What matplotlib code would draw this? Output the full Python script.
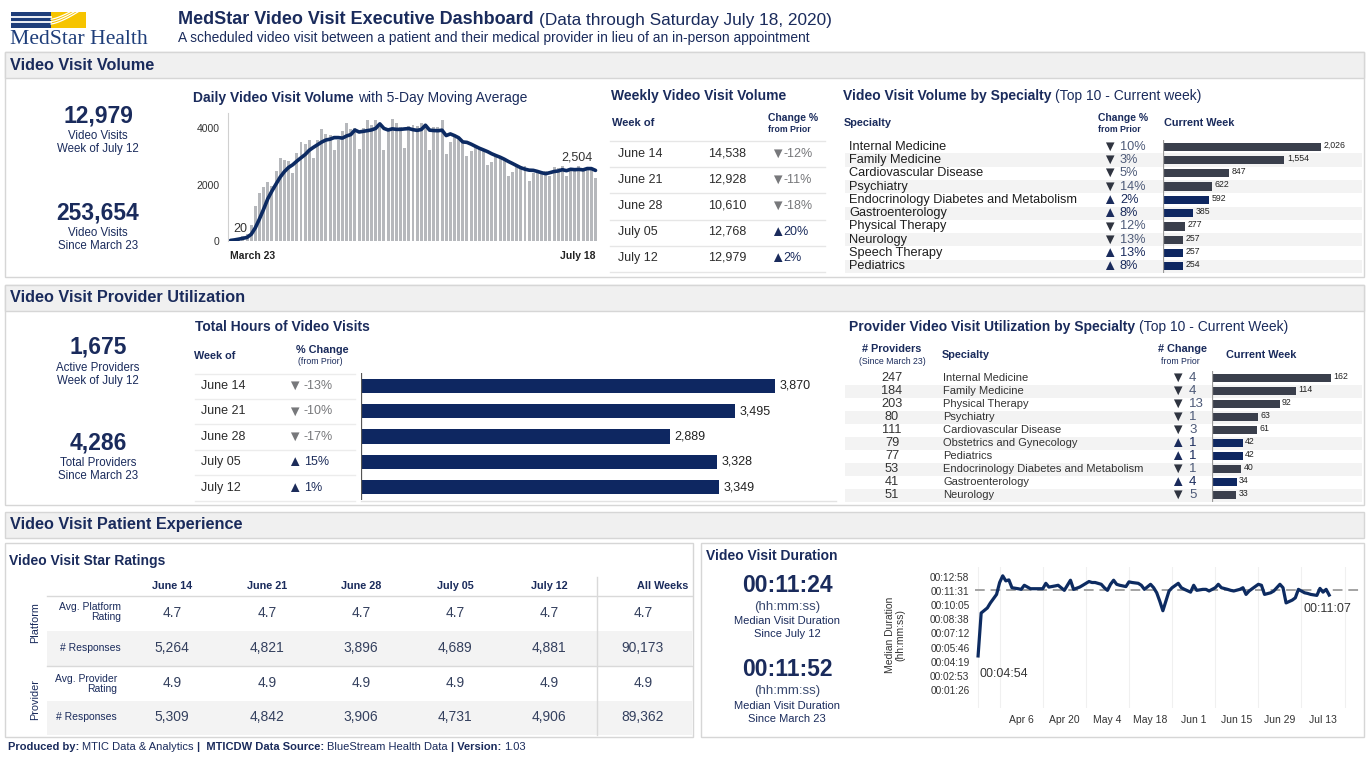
import numpy as np
import pandas as pd
import matplotlib.pyplot as plt
from matplotlib.patches import Rectangle

plt.rcParams['font.family'] = ['Liberation Sans', 'DejaVu Sans']

# ---------------- data ----------------
kpi_week_visits = 12979
kpi_total_visits = 253654
kpi_active_providers = 1675
kpi_total_providers = 4286
kpi_dur_week = "00:11:24"
kpi_dur_all = "00:11:52"

# daily video visits (weekdays, March 23 -> July 18)
daily_visits = [20, 60, 120, 180, 260, 570, 1230, 1700, 1900, 2100,
                1940, 2480, 2930, 2860, 2830, 2420, 3130, 3520, 3430, 3600,
                2930, 3600, 3990, 3790, 3750, 3210, 3600, 3900, 4170, 3990,
                4020, 3250, 4020, 4290, 4120, 4290, 4050, 3210, 4020, 4320,
                4200, 4050, 3290, 4080, 4120, 4080, 4200, 4050, 3210, 4050,
                4050, 4290, 3100, 3500, 3750, 3670, 3550, 3020, 3190, 3380,
                3310, 3250, 2710, 2810, 3070, 3020, 2900, 2300, 2450, 2690,
                2650, 2650, 2120, 2420, 2500, 2420, 2480, 2300, 2620, 2600,
                2650, 2300, 2550, 2550, 2650, 2560, 2540, 2540, 2230]
daily_first_label = "March 23"
daily_last_label = "July 18"

weekly_weeks = ["June 14", "June 21", "June 28", "July 05", "July 12"]
weekly_visits = [14538, 12928, 10610, 12768, 12979]
weekly_change = [-12, -11, -18, 20, 2]

spec_names = ["Internal Medicine", "Family Medicine", "Cardiovascular Disease", "Psychiatry",
              "Endocrinology Diabetes and Metabolism", "Gastroenterology", "Physical Therapy",
              "Neurology", "Speech Therapy", "Pediatrics"]
spec_change = [-10, -3, -5, -14, 2, 8, -12, -13, 13, 8]
spec_visits = [2026, 1554, 847, 622, 592, 385, 277, 257, 257, 254]

hours_total = [3870, 3495, 2889, 3328, 3349]
hours_change = [-13, -10, -17, 15, 1]

prov_names = ["Internal Medicine", "Family Medicine", "Physical Therapy", "Psychiatry",
              "Cardiovascular Disease", "Obstetrics and Gynecology", "Pediatrics",
              "Endocrinology Diabetes and Metabolism", "Gastroenterology", "Neurology"]
prov_total = [247, 184, 203, 80, 111, 79, 77, 53, 41, 51]
prov_change = [-4, -4, -13, -1, -3, 1, 1, -1, 4, -5]
prov_current = [162, 114, 92, 63, 61, 42, 42, 40, 34, 33]

star_cols = ["June 14", "June 21", "June 28", "July 05", "July 12", "All Weeks"]
platform_rating = [4.7, 4.7, 4.7, 4.7, 4.7, 4.7]
platform_responses = [5264, 4821, 3896, 4689, 4881, 90173]
provider_rating = [4.9, 4.9, 4.9, 4.9, 4.9, 4.9]
provider_responses = [5309, 4842, 3906, 4731, 4906, 89362]

# median visit duration, days after March 23 and seconds
dur_start = pd.Timestamp("2020-03-23")
dur_days = [0, 1, 3, 4, 6, 7, 8, 9, 10, 11, 13, 14, 15, 17, 18, 19, 21, 22, 23, 25,
            26, 28, 30, 31, 33, 34, 36, 37, 38, 40, 41, 42, 43, 44, 45, 46, 48, 49, 50, 52,
            53, 54, 56, 57, 58, 59, 60, 62, 63, 65, 66, 67, 69, 70, 71, 73, 74, 75, 77, 78,
            79, 81, 82, 83, 85, 86, 87, 88, 89, 91, 92, 93, 95, 96, 98, 99, 100, 102, 103, 104,
            106, 107, 108, 110, 111, 112, 113, 114]
dur_seconds = [294, 557, 588, 619, 671, 744, 785, 754, 760, 712,
               706, 702, 727, 706, 706, 706, 706, 739, 716, 723,
               727, 696, 758, 702, 716, 727, 750, 744, 744, 733,
               712, 696, 733, 758, 733, 727, 719, 748, 744, 739,
               727, 702, 733, 712, 681, 629, 571, 692, 712, 739,
               712, 702, 685, 727, 696, 702, 702, 692, 712, 733,
               712, 702, 696, 692, 702, 712, 671, 692, 706, 733,
               727, 671, 681, 692, 733, 712, 619, 636, 650, 702,
               681, 677, 671, 665, 708, 685, 702, 667]
dur_ref = 698

# ---------------- style ----------------
W, H = 1369, 762
NAVY = '#1a2b5c'
NAVY_BAR = '#0e2761'
DARK_BAR = '#3a3f4c'
GRAY_TXT = '#77787b'
TXT = '#2b2b2b'
BORDER = '#d6d6d6'
BAND = '#f0f0f0'
STRIPE = '#f3f3f3'
ARROW = 10.5

fig = plt.figure(figsize=(W / 100, H / 100), dpi=100)
bg = fig.add_axes([0, 0, 1, 1])
bg.set_xlim(0, W)
bg.set_ylim(H, 0)
bg.axis('off')
rend = fig.canvas.get_renderer()


def px_axes(x0, y0, x1, y1):
    a = fig.add_axes([x0 / W, 1 - y1 / H, (x1 - x0) / W, (y1 - y0) / H])
    a.set_facecolor('none')
    return a


def txt(x, y, s, size, color=TXT, weight='normal', ha='left', va='center', **kw):
    return bg.text(x, y, s, fontsize=size, color=color, fontweight=weight, ha=ha, va=va, **kw)


def rich(x, y, parts, size, color=NAVY):
    # parts: (text, weight, size or None)
    for s, w, sz in parts:
        sz = sz or size
        t = txt(x, y, s, sz, color=color, weight=w)
        x += t.get_window_extent(rend).width + 0.39 * sz


def rect(x0, y0, x1, y1, fc='none', ec='none', lw=1, z=0):
    bg.add_patch(Rectangle((x0, y0), x1 - x0, y1 - y0, fc=fc, ec=ec, lw=lw, zorder=z))


def hline(y, x0, x1, color='#e6e6e6', lw=1):
    bg.plot([x0, x1], [y, y], color=color, lw=lw)


def arrow(v):
    return '\u25b2' if v > 0 else '\u25bc'


# ---------------- header ----------------
rect(11, 12, 51, 28, fc='#1f3e7a')
for yy in (16.8, 22.3):
    bg.plot([11, 51], [yy, yy], color='white', lw=1.3)
rect(51, 12, 86, 28, fc='#f6c400')
xs = np.linspace(51, 86, 30)
for off in (0, 4, 8):
    bg.plot(xs, 24 - off * 0.6 - (xs - 51) ** 1.4 * 0.12, color='white', lw=0.9)
txt(10, 40, "MedStar Health", 15.6, color='#1f3e7a', family='Liberation Serif')

rich(178, 20, [("MedStar Video Visit Executive Dashboard", 'bold', 13),
               ("(Data through Saturday July 18, 2020)", 'normal', 12.4)], 13)
txt(178, 38, "A scheduled video visit between a patient and their medical provider in lieu of an in-person appointment",
    9.9, color=NAVY)

# section frames
for (y0, y1, title) in [(52, 277, "Video Visit Volume"), (285, 505, "Video Visit Provider Utilization")]:
    rect(5, y0, 1364, y1, ec=BORDER)
    rect(5, y0, 1364, y0 + 26, fc=BAND, ec=BORDER)
    txt(10, y0 + 13, title, 11.7, color=NAVY, weight='bold')
rect(5, 512, 1364, 538, fc=BAND, ec=BORDER)
txt(10, 525, "Video Visit Patient Experience", 11.7, color=NAVY, weight='bold')
rect(5, 543, 693, 737, ec=BORDER)
rect(701, 543, 1364, 737, ec=BORDER)

# ---------------- volume KPIs ----------------
txt(98, 116, f"{kpi_week_visits:,}", 16.5, color=NAVY, weight='bold', ha='center')
txt(98, 136, "Video Visits", 8.3, color=NAVY, ha='center')
txt(98, 149, "Week of July 12", 8.3, color=NAVY, ha='center')
txt(98, 213, f"{kpi_total_visits:,}", 16.5, color=NAVY, weight='bold', ha='center')
txt(98, 233, "Video Visits", 8.3, color=NAVY, ha='center')
txt(98, 246, "Since March 23", 8.3, color=NAVY, ha='center')

# ---------------- daily volume chart ----------------
rich(193, 98, [("Daily Video Visit Volume", 'bold', None), ("with 5-Day Moving Average", 'normal', None)], 10)
ax = px_axes(228, 113, 598, 241)
x = np.arange(len(daily_visits))
ax.bar(x, daily_visits, width=0.72, color='#b6b8bc')
ma = pd.Series(daily_visits).rolling(5, min_periods=1).mean()
ax.plot(x, ma, color='#0c2a62', lw=2.6, solid_capstyle='round')
ax.set_xlim(-0.6, len(x) - 0.4)
ax.set_ylim(0, 4540)
ax.set_yticks([0, 2000, 4000])
ax.tick_params(axis='y', length=0, labelsize=7.5, labelcolor='#333333', pad=6)
ax.set_xticks([0, len(x) - 1])
ax.set_xticklabels([daily_first_label, daily_last_label], fontsize=7.5, color='#222222', fontweight='bold')
ax.get_xticklabels()[0].set_ha('left')
ax.get_xticklabels()[1].set_ha('right')
ax.tick_params(axis='x', length=0, pad=7)
for s in ('top', 'right', 'bottom'):
    ax.spines[s].set_visible(False)
ax.spines['left'].set_color('#d0d0d0')
ax.annotate(f"{ma.iloc[0]:,.0f}", (x[0], ma.iloc[0]), xytext=(2, 6), textcoords='offset points',
            fontsize=9, color='#333333')
ax.annotate(f"{ma.iloc[-1]:,.0f}", (x[-1], ma.iloc[-1]), xytext=(-2, 7), textcoords='offset points',
            fontsize=9, color='#333333', ha='right')

# ---------------- weekly table ----------------
txt(611, 96, "Weekly Video Visit Volume", 10, color=NAVY, weight='bold')
txt(612, 123, "Week of", 8, color=NAVY, weight='bold')
txt(768, 118, "Change %", 7.5, color=NAVY, weight='bold')
txt(768, 129, "from Prior", 6.3, color=NAVY, weight='bold')
for k in range(6):
    hline(141 + 26.2 * k, 610, 825)
for i, (wk, v, c) in enumerate(zip(weekly_weeks, weekly_visits, weekly_change)):
    y = 154 + 26 * i
    col = NAVY if c > 0 else GRAY_TXT
    txt(618, y, wk, 9, color=TXT)
    txt(746, y, f"{v:,}", 9, color=TXT, ha='right')
    txt(770, y, arrow(c), ARROW, color=col)
    txt(783, y, f"{c}%", 9, color=col)

# ---------------- specialty volume ----------------
rich(843, 96, [("Video Visit Volume by Specialty", 'bold', None), ("(Top 10 - Current week)", 'normal', None)], 10)
txt(844, 123, "Specialty", 7.8, color=NAVY, weight='bold')
txt(1123, 118, "Change %", 7.5, color=NAVY, weight='bold', ha='center')
txt(1119, 130, "from Prior", 6.3, color=NAVY, weight='bold', ha='center')
txt(1164, 123, "Current Week", 7.8, color=NAVY, weight='bold')
row_h = 13.3
for i in range(1, 10, 2):
    rect(845, 140 + row_h * i, 1362, 140 + row_h * (i + 1), fc=STRIPE)
for i, (n, c) in enumerate(zip(spec_names, spec_change)):
    y = 140 + row_h * (i + 0.5)
    txt(849, y, n, 9.2, color='#1e1e1e')
    txt(1102, y, arrow(c), ARROW, color=NAVY if c > 0 else '#2f3440')
    txt(1120, y, f"{abs(c)}%", 9.2, color=NAVY if c > 0 else '#4d5a78')
ax2 = px_axes(1163, 140, 1362, 273)
cols = [NAVY_BAR if c > 0 else DARK_BAR for c in spec_change]
ax2.barh(np.arange(10), spec_visits, height=0.62, color=cols)
for i, v in enumerate(spec_visits):
    ax2.text(v + 35, i - 0.12, f"{v:,}", fontsize=6.3, color='#222222', va='center')
ax2.set_ylim(9.5, -0.5)
ax2.set_xlim(0, 2026 * 199 / 158)
ax2.axis('off')
ax2.axvline(0, color='#9a9a9a', lw=0.9)

# ---------------- provider KPIs ----------------
txt(98, 347, f"{kpi_active_providers:,}", 16.5, color=NAVY, weight='bold', ha='center')
txt(98, 368, "Active Providers", 8.3, color=NAVY, ha='center')
txt(98, 381, "Week of July 12", 8.3, color=NAVY, ha='center')
txt(98, 443, f"{kpi_total_providers:,}", 16.5, color=NAVY, weight='bold', ha='center')
txt(98, 463, "Total Providers", 8.3, color=NAVY, ha='center')
txt(98, 476, "Since March 23", 8.3, color=NAVY, ha='center')

# ---------------- hours table ----------------
txt(195, 327, "Total Hours of Video Visits", 10, color=NAVY, weight='bold')
txt(194, 356, "Week of", 7.8, color=NAVY, weight='bold')
txt(322, 350, "% Change", 7.8, color=NAVY, weight='bold', ha='center')
txt(320, 362, "(from Prior)", 6.3, color=NAVY, ha='center')
for k in range(6):
    hline(373.5 + 25.4 * k, 195, 355, color='#ececec')
for i, (wk, c) in enumerate(zip(weekly_weeks, hours_change)):
    y = 386 + 25.4 * i
    col = '#1c2c5a' if c > 0 else GRAY_TXT
    txt(201, y, wk, 9, color=TXT)
    txt(287, y, arrow(c), ARROW, color=col)
    txt(304, y, f"{c}%", 9, color=col)
ax3 = px_axes(361, 373, 836, 500)
ax3.barh(np.arange(5), hours_total, height=0.56, color=NAVY_BAR)
for i, v in enumerate(hours_total):
    ax3.text(v + 40, i, f"{v:,}", fontsize=9, color='#222222', va='center')
ax3.set_ylim(4.5, -0.5)
ax3.set_xlim(0, 475 / ((775 - 361) / 3870))
ax3.axis('off')
ax3.axvline(0, color='#555555', lw=0.9)
hline(501, 361, 836, color='#e3e3e3')

# ---------------- provider specialty ----------------
rich(849, 327, [("Provider Video Visit Utilization by Specialty", 'bold', None),
                ("(Top 10 - Current Week)", 'normal', None)], 10)
txt(892, 349, "# Providers", 7.8, color=NAVY, weight='bold', ha='center')
txt(892, 361, "(Since March 23)", 6.3, color=NAVY, ha='center')
txt(942, 355, "Specialty", 7.8, color=NAVY, weight='bold')
txt(1182, 349, "# Change", 7.8, color=NAVY, weight='bold', ha='center')
txt(1180, 361, "from Prior", 6.3, color=NAVY, ha='center')
txt(1226, 355, "Current Week", 7.8, color=NAVY, weight='bold')
prow = 13.0
for i in range(1, 10, 2):
    rect(845, 371.5 + prow * i, 1362, 371.5 + prow * (i + 1), fc=STRIPE)
for i, (t, n, c) in enumerate(zip(prov_total, prov_names, prov_change)):
    y = 371.5 + prow * (i + 0.5)
    txt(892, y, str(t), 9.2, color='#333333', ha='center')
    txt(943, y, n, 8, color='#333333')
    txt(1177, y, arrow(c), ARROW, color=NAVY if c > 0 else '#2f3440', ha='center')
    txt(1189, y, str(abs(c)), 9.5, color=NAVY if c > 0 else '#4d5a78')
ax4 = px_axes(1212, 371.5, 1362, 501.5)
cols = [NAVY_BAR if c > 0 else DARK_BAR for c in prov_change]
ax4.barh(np.arange(10), prov_current, height=0.64, color=cols)
for i, v in enumerate(prov_current):
    ax4.text(v + 3, i - 0.1, f"{v}", fontsize=6.3, color='#222222', va='center')
ax4.set_ylim(9.5, -0.5)
ax4.set_xlim(0, 150 / 119 * 162)
ax4.axis('off')
ax4.axvline(0, color='#9a9a9a', lw=0.9)

# ---------------- star ratings ----------------
txt(9, 561, "Video Visit Star Ratings", 10, color=NAVY, weight='bold')
col_x = [172, 267, 361, 455, 549, 643]
rect(47, 631, 692, 666, fc=STRIPE)
rect(47, 701, 692, 735, fc=STRIPE)
hline(596, 47, 692, color='#d9d9d9')
hline(666, 47, 692, color='#d9d9d9')
bg.plot([597, 597], [577, 735], color='#d9d9d9', lw=1)
for cx, c in zip(col_x, star_cols):
    if c == "All Weeks":
        txt(688, 586, c, 7.8, color=NAVY, weight='bold', ha='right')
    else:
        txt(cx, 586, c, 7.8, color=NAVY, weight='bold', ha='center')
txt(35, 623, "Platform", 7.8, color=NAVY, rotation=90, ha='center')
txt(35, 700, "Provider", 7.8, color=NAVY, rotation=90, ha='center')
txt(121, 612, "Avg. Platform\nRating", 7.5, color=NAVY, ha='right', multialignment='right', linespacing=1.0)
txt(121, 648, "# Responses", 7.5, color=NAVY, ha='right')
txt(117, 684, "Avg. Provider\nRating", 7.5, color=NAVY, ha='right', multialignment='right', linespacing=1.0)
txt(117, 717, "# Responses", 7.5, color=NAVY, ha='right')
rows = [(613, platform_rating, '{:.1f}'), (648, platform_responses, '{:,}'),
        (683, provider_rating, '{:.1f}'), (717, provider_responses, '{:,}')]
for y, vals, fmt in rows:
    for cx, v in zip(col_x, vals):
        txt(cx, y, fmt.format(v), 10, color='#34405e', ha='center')

# ---------------- duration ----------------
txt(706, 556, "Video Visit Duration", 10, color=NAVY, weight='bold')
txt(787, 585, kpi_dur_week, 16.5, color=NAVY, weight='bold', ha='center')
txt(787, 607, "(hh:mm:ss)", 9.5, color='#3a4a70', ha='center')
txt(787, 621, "Median Visit Duration", 8, color=NAVY, ha='center')
txt(787, 634, "Since July 12", 8, color=NAVY, ha='center')
txt(787, 669, kpi_dur_all, 16.5, color=NAVY, weight='bold', ha='center')
txt(787, 691, "(hh:mm:ss)", 9.5, color='#3a4a70', ha='center')
txt(787, 706, "Median Visit Duration", 8, color=NAVY, ha='center')
txt(787, 719, "Since March 23", 8, color=NAVY, ha='center')


def hms(s):
    s = int(round(s))
    return f"{s // 3600:02d}:{(s % 3600) // 60:02d}:{s % 60:02d}"


ax5 = px_axes(975, 567, 1360, 708)
ax5.plot(dur_days, dur_seconds, color='#0d2b61', lw=2.3, solid_joinstyle='round', zorder=3)
ax5.axhline(dur_ref, color='#a3a3a3', lw=1.4, ls=(0, (5, 3)), zorder=2)
ax5.set_xlim(-1, 124)
ax5.set_ylim(-25, 839)
yt = [86.4 * k for k in range(1, 10)]
ax5.set_yticks(yt)
ax5.set_yticklabels([hms(v) for v in yt], fontsize=7.3, color='#333333')
xt = list(range(14, 120, 14))
ax5.set_xticks(xt)
ax5.set_xticklabels([f"{(dur_start + pd.Timedelta(days=d)):%b} {(dur_start + pd.Timedelta(days=d)).day}"
                     for d in xt], fontsize=7.5, color='#333333')
ax5.set_xticks(list(range(0, 121, 7)), minor=True)
ax5.grid(axis='x', which='minor', color='#f0f0f0', lw=0.8)
ax5.tick_params(which='both', length=0)
ax5.tick_params(axis='x', pad=5)
ax5.tick_params(axis='y', pad=4)
for s in ax5.spines.values():
    s.set_visible(False)
ax5.set_ylabel("Median Duration\n(hh:mm:ss)", fontsize=7.5, color='#333333', linespacing=1.1)
ax5.yaxis.set_label_coords(-0.18, 0.52)
ax5.annotate(hms(dur_seconds[0]), (dur_days[0], dur_seconds[0]), xytext=(1, -9), textcoords='offset points',
             fontsize=9, color='#333333', va='top')
ax5.annotate(hms(dur_seconds[-1]), (dur_days[-1], dur_seconds[-1]), xytext=(16, -6), textcoords='offset points',
             fontsize=9, color='#333333', va='top', ha='right')

# ---------------- footer ----------------
rich(8, 747, [("Produced by:", 'bold', None), ("MTIC Data & Analytics", 'normal', None),
              ("|  MTICDW Data Source:", 'bold', None), ("BlueStream Health Data", 'normal', None),
              ("| Version:", 'bold', None), ("1.03", 'normal', None)], 8)

fig.savefig("out.png", dpi=100)
